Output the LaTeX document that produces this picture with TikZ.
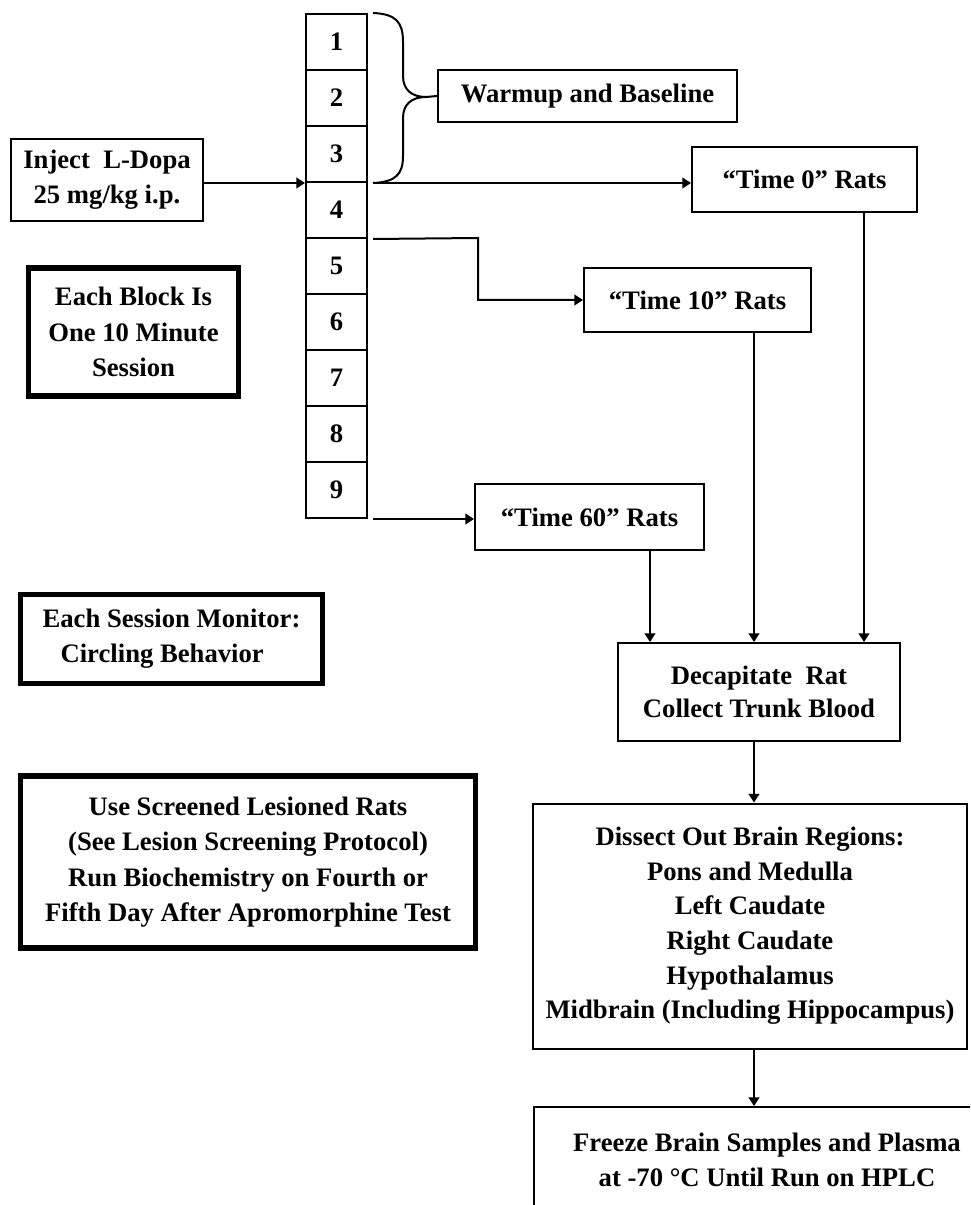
\documentclass[tikz,border=0pt]{standalone}
\usepackage{fontspec}
\setmainfont{Liberation Serif}
\usetikzlibrary{arrows.meta,calc}
\tikzset{
  every node/.style={font=\fontsize{20}{26}\selectfont\bfseries, align=center, inner sep=0pt},
  sz/.style 2 args={minimum width=#1*0.75pt, minimum height=#2*0.75pt},
  box/.style={draw, line width=1.5pt},
  heavybox/.style={draw, line width=3.8pt},
  link/.style={line width=1.5pt},
  arr/.style={link, -{Triangle[length=6.5pt,width=8pt]}},
}
\begin{document}
\begin{tikzpicture}[x=0.75pt,y=-0.75pt]
\useasboundingbox (0,0) rectangle (970,1205);
\clip (0,0) rectangle (970,1205);
\fill[white] (0,0) rectangle (970,1205);

% column of nine ten-minute blocks
\foreach \i [evaluate=\i as \yc using 42+56*(\i-1)] in {1,...,9}
  \node[box, sz={61}{56}] (b\i) at (336.5,\yc) {\i};

% flow boxes
\node[box, sz={192}{82}] (inj) at (107,180) {Inject \ L-Dopa\\25 mg/kg i.p.};
\node[box, sz={299}{52}] (wu) at (587.5,96) {Warmup and Baseline};
\node[box, sz={225}{65}] (t0) at (804.5,179.5) {“Time 0” Rats};
\node[box, sz={227}{64}] (t10) at (697.5,300) {“Time 10” Rats};
\node[box, sz={229}{66}] (t60) at (589.5,517) {“Time 60” Rats};
\node[box, sz={282}{98}, font=\fontsize{20}{25}\selectfont\bfseries] (dec) at (759,692)
  {Decapitate \ Rat\\Collect Trunk Blood};
\node[box, sz={434}{245}] (dis) at (750,926)
  {Dissect Out Brain Regions:\\Pons and Medulla\\Left Caudate\\Right Caudate\\Hypothalamus\\Midbrain (Including Hippocampus)};
\node[box, sz={465}{153}] (frz) at (766.5,1183.5) {};
\node (frztxt) at (767,1160)
  {Freeze Brain Samples and Plasma\\at -70 °C Until Run on HPLC};

% notes with heavy frames
\node[heavybox, sz={210}{128}, font=\fontsize{20}{26.5}\selectfont\bfseries] (blk) at (133.5,332)
  {Each Block Is\\One 10 Minute\\Session};
\node[heavybox, sz={302}{89}] (mon) at (171.5,639)
  {Each Session Monitor:\\\hspace*{-0.7em}Circling Behavior};
\node[heavybox, sz={455}{172}, font=\fontsize{20}{26.5}\selectfont\bfseries] (use) at (248,862)
  {Use Screened Lesioned Rats\\(See Lesion Screening Protocol)\\Run Biochemistry on Fourth or\\Fifth Day After Apromorphine Test};

% start points beside the block column
\coordinate (top1) at ($(b1.north east)+(5,0)$);
\coordinate (c0) at ($(b3.south east)+(5,0)$);
\coordinate (c10) at ($(b4.south east)+(5,0)$);
\coordinate (c60) at ($(b9.south east)+(5,0)$);
\coordinate (x60) at (650,0);
\coordinate (x10) at (754,0);
\coordinate (x0) at (864,0);

% brace over blocks 1-3
\draw[link] (top1) .. controls (396,14) and (403,22) .. (403,42) -- (403,76)
  .. controls (403,90) and (412,97) .. (426,97) -- (wu.west);
\draw[link] (426,97) .. controls (412,97) and (403,104) .. (403,118) -- (403,156)
  .. controls (403,174) and (396,182) .. (c0);

% connectors
\draw[arr] (inj.east |- c0) -- (b3.south west);
\draw[arr] (c0) -- (c0 -| t0.west);
\draw[arr] (c10) -- (478,238) |- (t10.west);
\draw[arr] (c60) -- (c60 -| t60.west);
\draw[arr] (t60.south -| x60) -- (x60 |- dec.north);
\draw[arr] (t10.south -| x10) -- (x10 |- dec.north);
\draw[arr] (t0.south -| x0) -- (x0 |- dec.north);
\draw[arr] (dec.south -| x10) -- (x10 |- dis.north);
\draw[arr] (dis.south -| x10) -- (x10 |- frz.north);
\end{tikzpicture}
\end{document}
